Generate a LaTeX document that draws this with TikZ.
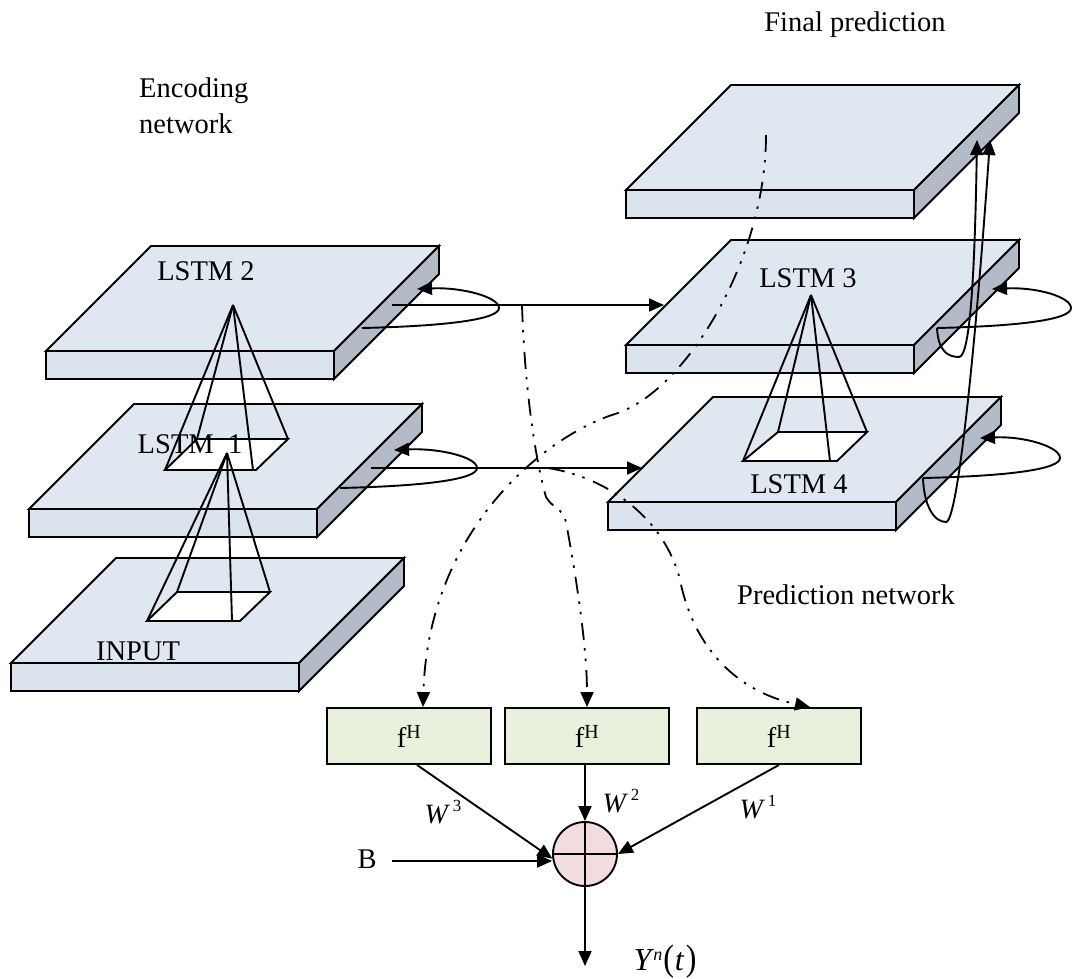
\documentclass[tikz,border=0pt]{standalone}
\usepackage{fontspec}
\usepackage{graphicx}
\setmainfont{Liberation Serif}
\usetikzlibrary{arrows.meta,calc}

\definecolor{slabtop}{HTML}{DFE7F1}
\definecolor{slabfront}{HTML}{DAE3EE}
\definecolor{slabside}{HTML}{B2BBC7}
\definecolor{cellfill}{HTML}{E8F0DE}
\definecolor{sumfill}{HTML}{F2DCDD}

\newcommand\lblfont{\fontsize{28.5pt}{34pt}\selectfont}
\newcommand\wlabel[1]{{\fontsize{28pt}{30pt}\selectfont\itshape W}\hspace{5pt}\raisebox{12pt}{\fontsize{17pt}{19pt}\selectfont #1}}

\tikzset{
  ln/.style={line width=1.9pt},
  tip/.style={-{Triangle[length=15pt,width=13pt]}},
  ddot/.style={line width=1.8pt, dash pattern=on 17pt off 8pt on 2.5pt off 8pt on 2.5pt off 9pt},
  lbl/.style={font=\lblfont, inner sep=0pt, anchor=base},
  cell/.style={draw, line width=1.9pt, fill=cellfill, minimum width=164pt,
               minimum height=56pt, inner sep=0pt, font=\lblfont},
  sumnode/.style={circle, draw, line width=1.9pt, fill=sumfill,
                  minimum size=64pt, inner sep=0pt},
  pyrbase/.style={ln, fill=white},
  slab/.pic={
    \draw[ln, fill=slabtop] (0,0) -- (288,0) -- (393,-105) -- (105,-105) -- cycle;
    \draw[ln, fill=slabfront] (0,0) rectangle (288,28);
    \draw[ln, fill=slabside] (288,0) -- (393,-105) -- (393,-77) -- (288,28) -- cycle;
  },
}

\begin{document}
\begin{tikzpicture}[x=1pt,y=-1pt]
\useasboundingbox (0,0) rectangle (1073,978);
\fill[white] (0,0) rectangle (1073,978);

% ---- layers (front-left top corner of each slab) ----
\pic at (46,351)  {slab};   % LSTM 2
\pic at (29,509)  {slab};   % LSTM 1
\pic at (11,663)  {slab};   % INPUT
\pic at (626,190) {slab};   % final prediction
\pic at (626,345) {slab};   % LSTM 3
\pic at (608,502) {slab};   % LSTM 4

% ---- receptive-field pyramids ----
\draw[pyrbase] (165,470) -- (256,470) -- (288,439) -- (197,439) -- cycle;
\foreach \p in {(165,470),(197,439),(253,470),(288,439)} \draw[ln] (233,305) -- \p;

\draw[pyrbase] (147,621) -- (240,621) -- (270,592) -- (177,592) -- cycle;
\foreach \p in {(147,621),(177,592),(232,621),(270,592)} \draw[ln] (227,453) -- \p;

\draw[pyrbase] (743,461) -- (837,461) -- (867,432) -- (778,432) -- cycle;
\foreach \p in {(743,461),(778,432),(830,461),(867,432)} \draw[ln] (811,295) -- \p;

% ---- texts ----
\node[lbl] (tL2) at (206,280) {LSTM 2};
\node[lbl] (tL1) at (190,453) {LSTM\ \ 1};
\node[lbl] (tIn) at (138,660) {INPUT};
\node[lbl] (tL3) at (808,287) {LSTM 3};
\node[lbl] (tL4) at (799,493) {LSTM 4};
\node[lbl] (tFinal) at (855,31) {Final prediction};
\node[lbl, anchor=base west] (tEnc1) at (139,97) {Encoding};
\node[lbl, anchor=base west] (tEnc2) at (139,133) {network};
\node[lbl] (tPred) at (846,604) {Prediction network};

% ---- anchor points on the layers ----
\coordinate (s2) at (362,328);  \coordinate (e2) at (499,308);  \coordinate (r2) at (417,289);
\coordinate (s1) at (340,488);  \coordinate (e1) at (477,468);  \coordinate (r1) at (394,450);
\coordinate (s3) at (937,328);  \coordinate (e3) at (1071,308); \coordinate (r3) at (992,289);
\coordinate (s4) at (923,478);  \coordinate (e4) at (1060,458); \coordinate (r4) at (980,438);
\coordinate (h2) at (392,305);  \coordinate (in3) at (664,305);
\coordinate (h1) at (371,468);  \coordinate (in4) at (642,468);
\coordinate (b3) at (959,357);  \coordinate (up3) at (977,140);
\coordinate (b4) at (946,522);  \coordinate (up4) at (990,140);

% ---- recurrent self loops ----
\foreach \s/\e/\r in {s2/e2/r2, s1/e1/r1, s3/e3/r3, s4/e4/r4}
  \draw[ln,tip] (\s) .. controls +(88,-2) and +(0,11) .. (\e)
                     .. controls +(0,-11) and +(45,-2) .. (\r);

% ---- encoder to predictor ----
\draw[ln,tip] (h2) -- (in3);
\draw[ln,tip] (h1) -- (in4);

% ---- predictor outputs to final prediction ----
\draw[ln,tip] (s3) .. controls +(1,22) and +(-12,0) .. (b3)
                   .. controls +(12,0) and +(-2,120) .. (up3);
\draw[ln,tip] (s4) .. controls +(1,28) and +(-12,0) .. (b4)
                   .. controls +(12,0) and +(-14,200) .. (up4);

% ---- output cells and summation ----
\node[cell] (f1) at (409,736) {f\textsuperscript{H}};
\node[cell] (f2) at (587,736) {f\textsuperscript{H}};
\node[cell] (f3) at (779,736) {f\textsuperscript{H}};
\node[sumnode] (sum) at (585,854) {};
\draw[ln] (sum.north) -- (sum.south) (sum.west) -- (sum.east);

% ---- hidden-state taps ----
\coordinate (dA) at (766,135);
\coordinate (dB) at (522,305);
\coordinate (dC) at (548,468);
\coordinate (jA) at (615,414);
\coordinate (jB1) at (546,497);
\coordinate (jB2) at (566,522);
\coordinate (jC) at (680,580);
\draw[ddot,tip] (dA) .. controls (766,260) and (685,392) .. (jA)
                     .. controls (545,436) and (428,530) .. ($(f1.north)+(14,0)$);
\draw[ddot,tip] (dB) .. controls (525,400) and (538,470) .. (jB1)
                     .. controls (552,508) and (563,508) .. (jB2)
                     .. controls (573,560) and (587,640) .. (f2.north);
\draw[ddot,tip] (dC) .. controls (610,478) and (665,520) .. (jC)
                     .. controls (692,640) and (730,690) .. ($(f3.north)+(31,0)$);

% ---- weighted sum ----
\draw[ln,tip] ($(f1.south)+(8,0)$) -- (sum.188);
\draw[ln,tip] (f2.south -| sum.north) -- (sum.north);
\draw[ln,tip] (f3.south) -- (sum.east);
\coordinate (bst) at (392,861);
\draw[ln,tip] (bst) -- (bst -| sum.west);
\coordinate (yend) at (585,966);
\draw[ln,tip] (sum.south) -- (yend);

\node[inner sep=0pt] (w3) at (443,812) {\wlabel{3}};
\node[inner sep=0pt] (w2) at (621,801) {\wlabel{2}};
\node[inner sep=0pt] (w1) at (758,807) {\wlabel{1}};
\node[lbl] (tB) at (367,868) {B};
\node[inner sep=0pt] (tY) at (665,962)
  {\fontsize{32pt}{36pt}\selectfont\itshape Y\hspace{2pt}\raisebox{10pt}{\fontsize{18pt}{20pt}\selectfont n}\upshape\hspace{1pt}\scalebox{1}[1.15]{(}\hspace{1pt}\itshape t\hspace{2pt}\upshape\scalebox{1}[1.15]{)}};
\end{tikzpicture}
\end{document}
